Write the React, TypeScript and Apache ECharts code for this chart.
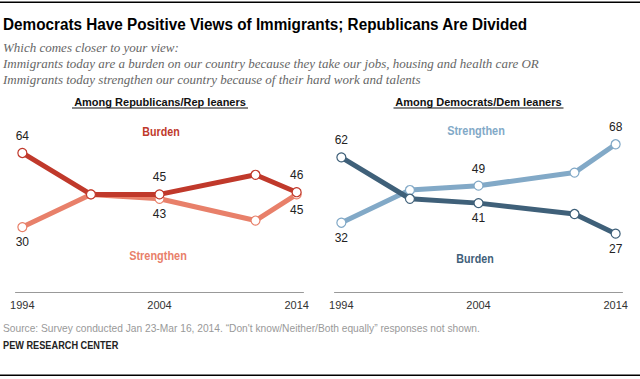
import React, { useEffect, useRef } from "react";
import * as echarts from "echarts";

const years = [1994, 1999, 2004, 2011, 2014];
const tickYears = [1994, 2004, 2014];
const repBurden = [64, 45, 45, 54, 46];
const repStrengthen = [30, 45, 43, 33, 45];
const demBurden = [62, 43, 41, 36, 27];
const demStrengthen = [32, 47, 49, 55, 68];
const labeledIdx = [0, 2, 4];

const C_RB = "#c0392b";
const C_RS = "#e8806a";
const C_DB = "#3f6079";
const C_DS = "#82a9c7";

const SANS = "'Liberation Sans', Arial, sans-serif";

function mkSeries(name: string, vals: number[], other: number[], color: string, axis: number, z: number) {
  return {
    type: "line",
    name,
    xAxisIndex: axis,
    yAxisIndex: axis,
    z,
    symbol: "circle",
    symbolSize: 9,
    lineStyle: { color, width: 5 },
    itemStyle: { color: "#fff", borderColor: color, borderWidth: 1.2 },
    data: vals.map((v, i) => {
      const show = labeledIdx.includes(i);
      const top = v >= other[i];
      return {
        value: [years[i], v],
        label: {
          show,
          position: top ? "top" : "bottom",
          distance: top ? 6 : 4,
          formatter: String(v),
          color: "#222",
          fontSize: 12,
          fontFamily: SANS,
        },
      };
    }),
  };
}

export default function App() {
  const ref = useRef<HTMLDivElement>(null);
  useEffect(() => {
    if (!ref.current) return;
    const chart = echarts.init(ref.current, undefined, { renderer: "svg" });
    const xAxisCommon = {
      type: "value",
      min: 1993.5,
      max: 2014.5,
      axisLine: { show: true, lineStyle: { color: "#999", width: 1 } },
      axisTick: { show: false },
      splitLine: { show: false },
      axisLabel: {
        customValues: tickYears,
        color: "#333",
        fontSize: 11,
        fontFamily: SANS,
        margin: 7,
        formatter: (v: number) => String(v),
      },
    };
    const yAxisCommon = { type: "value", min: 0, max: 100, show: false };
    const label = (text: string, x: number, y: number, fill: string, font: string, sx: number, align = "center") => ({
      type: "text",
      x,
      y,
      scaleX: sx,
      style: { text, fill, font, align, verticalAlign: "middle" },
    });
    chart.setOption({
      animation: false,
      grid: [
        { left: 15.5, width: 288, top: 74.5, height: 218 },
        { left: 334.5, width: 288, top: 74.5, height: 218 },
      ],
      xAxis: [
        { ...xAxisCommon, gridIndex: 0 },
        { ...xAxisCommon, gridIndex: 1 },
      ],
      yAxis: [
        { ...yAxisCommon, gridIndex: 0 },
        { ...yAxisCommon, gridIndex: 1 },
      ],
      series: [
        mkSeries("Strengthen", repStrengthen, repBurden, C_RS, 0, 2),
        mkSeries("Burden", repBurden, repStrengthen, C_RB, 0, 3),
        mkSeries("Strengthen", demStrengthen, demBurden, C_DS, 1, 2),
        mkSeries("Burden", demBurden, demStrengthen, C_DB, 1, 3),
      ],
      graphic: [
        { type: "rect", shape: { x: 0, y: 1.5, width: 640, height: 1.5 }, style: { fill: "#000" } },
        { type: "rect", shape: { x: 0, y: 374.5, width: 640, height: 1.5 }, style: { fill: "#000" } },
        label(
          "Democrats Have Positive Views of Immigrants; Republicans Are Divided",
          3, 23.5, "#000", `bold 17px ${SANS}`, 0.9, "left"
        ),
        ...[
          "Which comes closer to your view:",
          "Immigrants today are a burden on our country because they take our jobs, housing and health care OR",
          "Immigrants today strengthen our country because of their hard work and talents",
        ].map((t, i) => ({
          type: "text",
          x: 3,
          y: 47 + i * 16,
          style: {
            text: t,
            fill: "#666",
            font: `italic 13px 'Liberation Serif', 'Times New Roman', serif`,
            verticalAlign: "middle",
          },
        })),
        label("Among Republicans/Rep leaners", 160, 102, "#111", `bold 11px ${SANS}`, 1),
        { type: "rect", shape: { x: 72, y: 107.5, width: 176, height: 1 }, style: { fill: "#111" } },
        label("Among Democrats/Dem leaners", 478.5, 102, "#111", `bold 11px ${SANS}`, 1),
        { type: "rect", shape: { x: 393.5, y: 107.5, width: 170, height: 1 }, style: { fill: "#111" } },
        label("Burden", 161, 132, C_RB, `bold 12px ${SANS}`, 0.89),
        label("Strengthen", 158, 256, C_RS, `bold 12px ${SANS}`, 0.91),
        label("Strengthen", 476, 131, C_DS, `bold 12px ${SANS}`, 0.91),
        label("Burden", 475, 259, C_DB, `bold 12px ${SANS}`, 0.89),
        label(
          "Source: Survey conducted Jan 23-Mar 16, 2014. \u201cDon't know/Neither/Both equally\u201d responses not shown.",
          3, 328, "#999", `11px ${SANS}`, 0.93, "left"
        ),
        label("PEW RESEARCH CENTER", 3, 345, "#222", `bold 10px ${SANS}`, 0.92, "left"),
      ],
    });
    return () => chart.dispose();
  }, []);
  return (
    <div
      ref={ref}
      style={{ position: "fixed", left: 0, top: 0, width: 640, height: 379, background: "#fff" }}
    />
  );
}
